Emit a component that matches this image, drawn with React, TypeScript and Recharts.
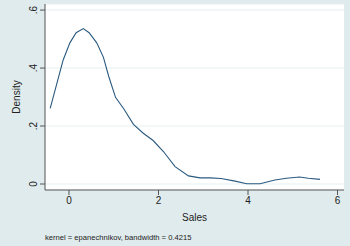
import React from 'react';
import { LineChart, Line, XAxis, YAxis, CartesianGrid, Label } from 'recharts';

const salesPoints = [-0.42, -0.26, -0.13, 0.02, 0.16, 0.32, 0.45, 0.62, 0.77, 0.89, 1.04, 1.23, 1.44, 1.66, 1.88, 2.11, 2.37, 2.67, 2.93, 3.15, 3.4, 3.71, 3.97, 4.27, 4.6, 4.86, 5.15, 5.35, 5.61];
const densityValues = [0.261, 0.353, 0.428, 0.487, 0.522, 0.536, 0.522, 0.487, 0.437, 0.37, 0.299, 0.258, 0.206, 0.175, 0.15, 0.112, 0.06, 0.028, 0.021, 0.021, 0.019, 0.01, 0.001, 0.001, 0.014, 0.02, 0.024, 0.02, 0.016];
const xTicks = [0, 2, 4, 6];
const yTicks = [0, 0.2, 0.4, 0.6];
const yTickLabels = ['0', '.2', '.4', '.6'];
const xAxisTitle = 'Sales';
const yAxisTitle = 'Density';
const noteText = 'kernel = epanechnikov, bandwidth = 0.4215';

const data = salesPoints.map((x, i) => ({ x, y: densityValues[i] }));

const FONT = '"Liberation Sans", Arial, Helvetica, sans-serif';
const BG = '#e0ebed';
const AXIS = '#555555';
const TEXT = '#222222';

const YTick = (props: any) => {
  const { y, payload } = props;
  const idx = yTicks.indexOf(payload.value);
  const label = idx >= 0 ? yTickLabels[idx] : String(payload.value);
  return (
    <g transform={`translate(36.5,${y})`}>
      <text transform="rotate(-90)" textAnchor="middle" fontSize={10} fill={TEXT} fontFamily={FONT}>
        {label}
      </text>
    </g>
  );
};

export default function App() {
  return (
    <div style={{ position: 'absolute', left: 0, top: 0, width: 350, height: 246, background: BG }}>
      <LineChart width={350} height={246} data={data} margin={{ top: 4, right: 6, bottom: 0, left: 0 }}>
        <CartesianGrid vertical={false} stroke="#e6eff1" fill="#ffffff" />
        <XAxis
          dataKey="x"
          type="number"
          domain={[-0.536, 6.145]}
          ticks={xTicks}
          allowDataOverflow
          height={56}
          tickSize={5}
          tickMargin={2}
          stroke={AXIS}
          tick={{ fill: TEXT, fontSize: 10, fontFamily: FONT }}
        >
          <Label
            content={(p: any) => {
              const vb = p.viewBox;
              return (
                <g>
                  <text x={vb.x + vb.width / 2} y={221} textAnchor="middle" fontSize={10} fill={TEXT} fontFamily={FONT}>
                    {xAxisTitle}
                  </text>
                  <text x={45} y={240} textAnchor="start" fontSize={7.6} fill={TEXT} fontFamily={FONT}>
                    {noteText}
                  </text>
                </g>
              );
            }}
          />
        </XAxis>
        <YAxis
          type="number"
          domain={[-0.0207, 0.621]}
          ticks={yTicks}
          allowDataOverflow
          width={45}
          tickSize={5}
          tickMargin={0}
          stroke={AXIS}
          tick={<YTick />}
        >
          <Label
            content={(p: any) => {
              const vb = p.viewBox;
              const cy = vb.y + vb.height / 2;
              return (
                <text transform={`translate(20,${cy}) rotate(-90)`} textAnchor="middle" fontSize={10} fill={TEXT} fontFamily={FONT}>
                  {yAxisTitle}
                </text>
              );
            }}
          />
        </YAxis>
        <Line type="linear" dataKey="y" stroke="#2a5a80" strokeWidth={1.1} dot={false} isAnimationActive={false} />
      </LineChart>
    </div>
  );
}
